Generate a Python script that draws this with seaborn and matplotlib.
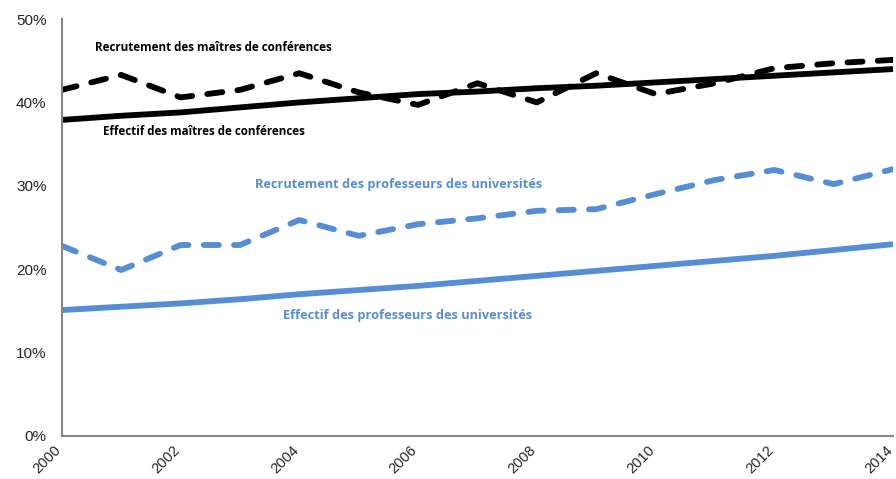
# Effectifs et recrutements des enseignants-chercheurs (part des femmes), 2000-2014
import numpy as np
import pandas as pd
import seaborn as sns
import matplotlib.pyplot as plt
from matplotlib.transforms import ScaledTranslation

years = list(range(2000, 2015))

# valeurs (en %)
recrut_mcf = [41.5, 43.3, 40.6, 41.5, 43.5, 41.2, 39.7, 42.3, 40.0, 43.5, 41.0, 42.3, 44.1, 44.7, 45.1]
effectif_mcf = [37.9, 38.4, 38.8, 39.4, 40.0, 40.5, 41.0, 41.3, 41.7, 42.0, 42.4, 42.8, 43.2, 43.6, 44.0]
recrut_pu = [22.8, 19.9, 22.9, 22.9, 25.9, 24.0, 25.4, 26.1, 27.0, 27.2, 29.0, 30.7, 31.9, 30.2, 32.0]
effectif_pu = [15.1, 15.5, 15.9, 16.4, 17.0, 17.5, 18.0, 18.6, 19.2, 19.8, 20.4, 21.0, 21.6, 22.3, 23.0]

series_names = ["Recrutement des maîtres de conférences", "Effectif des maîtres de conférences",
                "Recrutement des professeurs des universités", "Effectif des professeurs des universités"]

df = pd.DataFrame({
    "annee": years * 4,
    "part": recrut_mcf + effectif_mcf + recrut_pu + effectif_pu,
    "serie": np.repeat(series_names, len(years)),
})

blue = "#558ED5"
colors = {series_names[0]: "black", series_names[1]: "black",
          series_names[2]: blue, series_names[3]: blue}

sns.set_style("white")
plt.rcParams["font.family"] = ["Liberation Sans", "DejaVu Sans"]

fig = plt.figure(figsize=(8.96, 4.79), dpi=100)
ax = fig.add_axes([0.069, 0.0898, 0.9277, 0.8705])

for name in series_names:
    sub = df[df["serie"] == name]
    sns.lineplot(data=sub, x="annee", y="part", color=colors[name], lw=4.2,
                 ax=ax, legend=False)
    l = ax.lines[-1]
    l.set_solid_capstyle("butt")
    if name.startswith("Recrutement"):
        l.set_dashes([2.6, 2.6])
        l.set_dash_capstyle("round")

ax.set_xlim(2000, 2014)
ax.set_ylim(0, 50)
ax.set_xticks(range(2000, 2015, 2))
ax.set_yticks(range(0, 51, 10))
ax.set_yticklabels([f"{v}%" for v in range(0, 51, 10)], fontsize=11)
ax.set_xticklabels([str(y) for y in range(2000, 2015, 2)], fontsize=10.5,
                   rotation=45, ha="right", rotation_mode="anchor")
ax.tick_params(axis="y", length=0, pad=11)
ax.tick_params(axis="x", length=0, pad=5)
# décalage des années vers la gauche (2014 reste dans l'image)
shift = ScaledTranslation(-8 / 100, 0, fig.dpi_scale_trans)
for t in ax.get_xticklabels():
    t.set_transform(t.get_transform() + shift)
ax.set_xlabel("")
ax.set_ylabel("")
for s in ["top", "right"]:
    ax.spines[s].set_visible(False)
for s in ["left", "bottom"]:
    ax.spines[s].set_color("#868686")
    ax.spines[s].set_linewidth(1.5)

lab = dict(fontweight="bold", family=["Open Sans", "DejaVu Sans"], ha="center", va="center")
ax.text(2002.56, 46.6, series_names[0], color="black", fontsize=8.4, **lab)
ax.text(2002.4, 36.5, series_names[1], color="black", fontsize=8.4, **lab)
ax.text(2005.67, 30.2, series_names[2], color=blue, fontsize=9.2, **lab)
ax.text(2005.83, 14.4, series_names[3], color=blue, fontsize=9.2, **lab)

fig.savefig("out.png", dpi=100)
